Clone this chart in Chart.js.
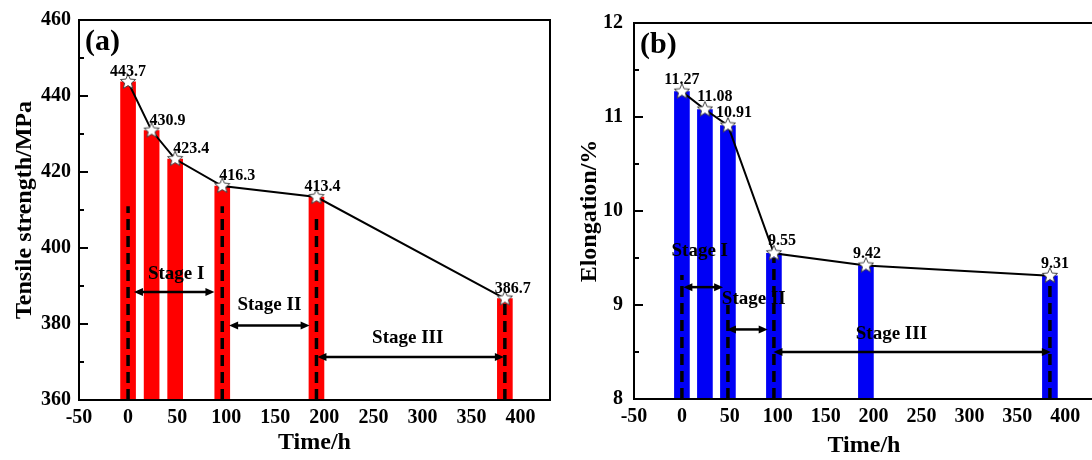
<!DOCTYPE html>
<html>
<head>
<meta charset="utf-8">
<script src="https://cdn.jsdelivr.net/npm/chart.js@4.4.1/dist/chart.umd.min.js"></script>
<style>
  html, body { margin: 0; padding: 0; background: #fff; overflow: hidden; }
  #wrap { position: relative; width: 1092px; height: 460px; overflow: hidden; }
  #boxA { position: absolute; left: 0; top: 0; width: 560px; height: 460px; }
  #boxB { position: absolute; left: 546px; top: 0; width: 558px; height: 460px; }
</style>
</head>
<body>
<div id="wrap">
  <div id="boxA"><canvas id="chartA"></canvas></div>
  <div id="boxB"><canvas id="chartB"></canvas></div>
</div>
<script>
// data
const times = [0, 24, 48, 96, 192, 384];
const strength = [443.7, 430.9, 423.4, 416.3, 413.4, 386.7];
const elongation = [11.27, 11.08, 10.91, 9.55, 9.42, 9.31];

// dashed stage boundaries (time, top value)
const dashTimesA = [0, 96, 192, 384];
const dashTopA = [411, 411, 408.5, 387];
const dashTimesB = [0, 48, 96, 384];
const dashTopB = [9.32, 9.0, 9.5, 9.25];

// stage arrows and labels
const stageNames = ['Stage I', 'Stage II', 'Stage III'];
const arrowFromA = [6, 103, 193];
const arrowToA = [88, 185, 383];
const arrowYA = [388.4, 379.6, 371.3];
const stageTextXA = [49, 144, 285];
const stageTextYA = [393.2, 384.9, 376.2];

const arrowFromB = [1.5, 47, 95.5];
const arrowToB = [43, 89.5, 385];
const arrowYB = [9.19, 8.74, 8.5];
const stageTextXB = [18.6, 75, 218.6];
const stageTextYB = [9.57, 9.06, 8.69];

const FONT = "'Liberation Serif', 'Times New Roman', serif";

function makeStar(r) {
  const s = Math.ceil(r * 2 + 4);
  const c = document.createElement('canvas');
  c.width = s; c.height = s;
  const g = c.getContext('2d');
  g.translate(s / 2, s / 2);
  g.beginPath();
  for (let i = 0; i < 10; i++) {
    const rad = i % 2 === 0 ? r : r * 0.45;
    const a = -Math.PI / 2 + i * Math.PI / 5;
    g.lineTo(rad * Math.cos(a), rad * Math.sin(a));
  }
  g.closePath();
  g.fillStyle = '#fff';
  g.fill();
  g.strokeStyle = '#444';
  g.lineWidth = 1;
  g.stroke();
  return c;
}
const star = makeStar(8);

function dashData(ts, tops, base) {
  const out = [];
  ts.forEach((t, i) => {
    out.push({x: t, y: base}, {x: t, y: tops[i]}, {x: t, y: null});
  });
  return out;
}

function drawArrow(ctx, x1, x2, y) {
  const h = 9, w = 4;
  ctx.beginPath();
  ctx.moveTo(x1 + h - 1, y);
  ctx.lineTo(x2 - h + 1, y);
  ctx.stroke();
  ctx.beginPath();
  ctx.moveTo(x1, y); ctx.lineTo(x1 + h, y - w); ctx.lineTo(x1 + h, y + w); ctx.closePath();
  ctx.fill();
  ctx.beginPath();
  ctx.moveTo(x2, y); ctx.lineTo(x2 - h, y - w); ctx.lineTo(x2 - h, y + w); ctx.closePath();
  ctx.fill();
}

const decor = {
  id: 'decor',
  afterDatasetsDraw(chart, args, o) {
    const {ctx, chartArea: ca} = chart;
    const xs = chart.scales.x, ys = chart.scales.y;
    ctx.save();
    ctx.fillStyle = '#000';
    ctx.strokeStyle = '#000';

    // stage arrows + texts
    ctx.lineWidth = 2.5;
    for (let i = 0; i < o.names.length; i++) {
      drawArrow(ctx, xs.getPixelForValue(o.from[i]), xs.getPixelForValue(o.to[i]), ys.getPixelForValue(o.arrowY[i]));
    }
    ctx.font = 'bold 19px ' + FONT;
    ctx.textAlign = 'center';
    ctx.textBaseline = 'middle';
    for (let i = 0; i < o.names.length; i++) {
      ctx.fillText(o.names[i], xs.getPixelForValue(o.textX[i]), ys.getPixelForValue(o.textY[i]));
    }

    // value labels
    ctx.font = 'bold 16px ' + FONT;
    ctx.textBaseline = 'alphabetic';
    o.values.forEach((v, i) => {
      const px = xs.getPixelForValue(times[i]) + o.labelShift[i];
      const py = ys.getPixelForValue(v) - o.labelLift;
      ctx.fillText(o.fmt(v), px, py);
    });

    // frame
    ctx.lineWidth = 2;
    ctx.strokeRect(ca.left, ca.top, ca.right - ca.left, ca.bottom - ca.top);

    // inward ticks on the y axis
    ys.ticks.forEach(t => {
      const y = ys.getPixelForValue(t.value);
      const major = Math.abs(t.value / o.major - Math.round(t.value / o.major)) < 1e-6;
      ctx.beginPath();
      ctx.moveTo(ca.left, y);
      ctx.lineTo(ca.left + (major ? 9 : 5), y);
      ctx.stroke();
    });

    // panel letter
    ctx.font = 'bold 30px ' + FONT;
    ctx.textAlign = 'left';
    ctx.fillText(o.letter, ca.left + 6, ca.top + 30);
    ctx.restore();
  }
};

function makeChart(id, opts) {
  return new Chart(document.getElementById(id), {
    type: 'bar',
    data: {
      datasets: [
        {
          type: 'line',
          data: times.map((t, i) => ({x: t, y: opts.values[i]})),
          borderColor: '#000',
          borderWidth: 2,
          pointStyle: star,
          pointRadius: 8,
          order: 0
        },
        {
          type: 'line',
          data: dashData(opts.dashTimes, opts.dashTops, opts.min),
          borderColor: '#000',
          borderWidth: 3.5,
          borderDash: [11, 6],
          pointRadius: 0,
          spanGaps: false,
          order: 1
        },
        {
          type: 'bar',
          data: times.map((t, i) => ({x: t, y: opts.values[i]})),
          backgroundColor: opts.color,
          barThickness: opts.barWidth,
          order: 2
        }
      ]
    },
    options: {
      responsive: true,
      maintainAspectRatio: false,
      animation: false,
      layout: {padding: {top: 18, right: opts.padRight, left: 0, bottom: 0}},
      plugins: {
        legend: {display: false},
        tooltip: {enabled: false},
        decor: opts.decor
      },
      scales: {
        x: {
          type: 'linear',
          min: -50,
          max: 430,
          offset: false,
          grid: {display: false, drawTicks: false},
          border: {display: false},
          ticks: {
            stepSize: 50,
            includeBounds: false,
            autoSkip: false,
            maxRotation: 0,
            padding: 6,
            color: '#000',
            font: {family: FONT, size: 20, weight: 'bold'},
            callback: v => (v % 50 === 0 ? String(v) : '')
          },
          title: {
            display: true,
            text: 'Time/h',
            color: '#000',
            font: {family: FONT, size: 24, weight: 'bold'},
            padding: {top: 0, bottom: opts.xTitlePad}
          },
          afterFit: s => { s.height = opts.xHeight; }
        },
        y: {
          type: 'linear',
          min: opts.min,
          max: opts.max,
          grid: {display: false, drawTicks: false},
          border: {display: false},
          ticks: {
            stepSize: opts.minor,
            autoSkip: false,
            padding: opts.yTickPad,
            color: '#000',
            font: {family: FONT, size: 20, weight: 'bold'},
            callback: v => (Math.abs(v / opts.major - Math.round(v / opts.major)) < 1e-6 ? String(v) : '')
          },
          title: {
            display: true,
            text: opts.yTitle,
            color: '#000',
            font: {family: FONT, size: 24, weight: 'bold'},
            padding: {top: opts.yTitlePad, bottom: 0}
          },
          afterFit: s => { s.width = opts.yWidth; }
        }
      }
    },
    plugins: [decor]
  });
}

makeChart('chartA', {
  values: strength,
  color: 'rgb(255,0,0)',
  barWidth: 15,
  min: 360, max: 460, major: 20, minor: 10,
  dashTimes: dashTimesA, dashTops: dashTopA,
  yTitle: 'Tensile strength/MPa',
  yWidth: 79, xHeight: 60, padRight: 8,
  yTickPad: 8, yTitlePad: 10, xTitlePad: 3,
  decor: {
    names: stageNames, from: arrowFromA, to: arrowToA, arrowY: arrowYA,
    textX: stageTextXA, textY: stageTextYA,
    values: strength, fmt: v => v.toFixed(1),
    labelShift: [0, 16, 16, 15, 6, 8], labelLift: 6,
    major: 20, letter: '(a)'
  }
});

makeChart('chartB', {
  values: elongation,
  color: 'rgb(0,0,245)',
  barWidth: 15,
  min: 8, max: 12, major: 1, minor: 0.5,
  dashTimes: dashTimesB, dashTops: dashTopB,
  yTitle: 'Elongation/%',
  yWidth: 88, xHeight: 61, padRight: 5,
  yTickPad: 11, yTitlePad: 29, xTitlePad: 0,
  decor: {
    names: stageNames, from: arrowFromB, to: arrowToB, arrowY: arrowYB,
    textX: stageTextXB, textY: stageTextYB,
    values: elongation, fmt: v => v.toFixed(2),
    labelShift: [0, 10, 6, 8, 1, 5], labelLift: 8,
    major: 1, letter: '(b)'
  }
});
</script>
</body>
</html>
